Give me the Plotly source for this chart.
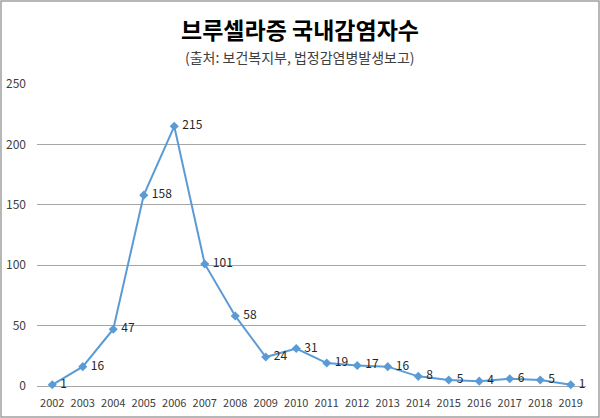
import plotly.graph_objects as go

years = ["2002","2003","2004","2005","2006","2007","2008","2009","2010","2011",
         "2012","2013","2014","2015","2016","2017","2018","2019"]
cases = [1, 16, 47, 158, 215, 101, 58, 24, 31, 19, 17, 16, 8, 5, 4, 6, 5, 1]
y_ticks = [0, 50, 100, 150, 200, 250]

title_text = "브루셀라증 국내감염자수"
subtitle_text = "(출처: 보건복지부, 법정감염병발생보고)"

W, H = 600, 418
ML, MR, MT, MB = 37, 14, 84, 32
PW, PH = W - ML - MR, H - MT - MB

FONT = "Noto Sans CJK KR, Noto Sans, sans-serif"

fig = go.Figure()
fig.add_trace(go.Scatter(
    x=years, y=cases,
    mode="lines+markers+text",
    line=dict(color="#5B9BD5", width=2),
    marker=dict(symbol="diamond", size=7, color="#5B9BD5"),
    text=[" " + str(v) for v in cases],
    textposition="middle right",
    textfont=dict(family=FONT, size=12, color="#262626"),
    cliponaxis=False,
    hoverinfo="x+y",
))

# outer frame
def px_x(p):
    return (p - ML) / PW
def px_y(p):
    return (H - MB - p) / PH

fig.add_shape(type="rect", xref="paper", yref="paper",
              x0=px_x(1), x1=px_x(W - 1), y0=px_y(H - 1), y1=px_y(1),
              line=dict(color="#A0A0A0", width=1.5), fillcolor="rgba(0,0,0,0)",
              layer="below")

fig.add_annotation(text="<b>" + title_text + "</b>", xref="paper", yref="paper",
                   x=px_x(W / 2), y=px_y(29), xanchor="center", yanchor="middle",
                   showarrow=False, font=dict(family=FONT, size=23, color="#000000"))
fig.add_annotation(text=subtitle_text, xref="paper", yref="paper",
                   x=px_x(W / 2), y=px_y(57), xanchor="center", yanchor="middle",
                   showarrow=False, font=dict(family=FONT, size=14, color="#404040"))

fig.update_layout(
    width=W, height=H,
    margin=dict(l=ML, r=MR, t=MT, b=MB, autoexpand=False),
    paper_bgcolor="white", plot_bgcolor="white",
    showlegend=False,
    font=dict(family=FONT, size=12, color="#404040"),
    xaxis=dict(type="category", range=[-0.5, len(years) - 0.5],
               showgrid=False, showline=False, zeroline=False,
               ticks="", ticklabelstandoff=9, automargin=False, tickangle=0,
               tickfont=dict(size=11, color="#404040"),
               fixedrange=True),
    yaxis=dict(range=[0, 250], tickvals=y_ticks, showgrid=True,
               gridcolor="#A6A6A6", gridwidth=1, zeroline=True,
               zerolinecolor="#A6A6A6", zerolinewidth=1, showline=False,
               ticks="", ticklabelstandoff=10, automargin=False,
               tickfont=dict(size=12, color="#404040"), fixedrange=True),
)

fig.write_html("out.html")
